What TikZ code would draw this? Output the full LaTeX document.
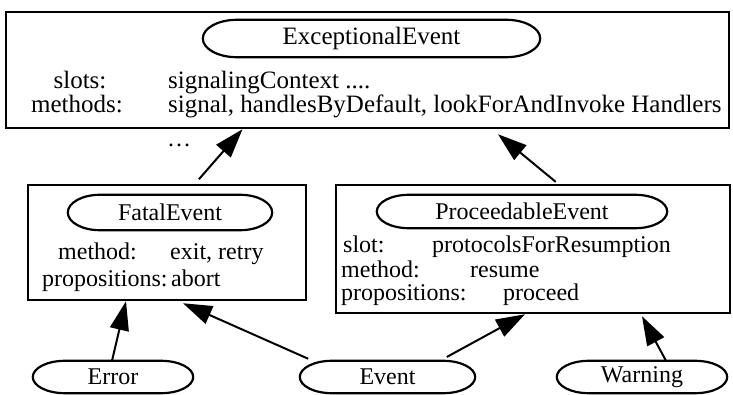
\documentclass[tikz,border=0pt]{standalone}
\usepackage{fontspec}
\setmainfont{Liberation Serif}
\usetikzlibrary{arrows.meta,calc}
\newcommand\ovaloutline[2]{%
  \draw[ovalline] let \p1=(#1.north west), \p2=(#1.south east), \n1={(\y1-\y2)/2} in
    (\x1+#2,\y1) -- (\x2-#2,\y1) arc[start angle=90,end angle=-90,x radius=#2,y radius=\n1]
    -- (\x1+#2,\y2) arc[start angle=270,end angle=90,x radius=#2,y radius=\n1] -- cycle;}
\begin{document}
\begin{tikzpicture}[x=1pt,y=1pt,
  txt/.style={font=\fontsize{24}{24}\selectfont, inner sep=0pt},
  bigtxt/.style={font=\fontsize{25}{25}\selectfont, inner sep=0pt},
  line/.style={text height=16pt, text depth=4pt},
  box/.style={draw, line width=2.5pt, inner sep=0pt},
  ov/.style={txt, draw=none},
  ovalline/.style={line width=2.2pt},
  arr/.style={line width=2pt, -{Triangle[length=29pt,width=19pt]}}]
\useasboundingbox (0,0) rectangle (733,-395);
% top box
\node[box, minimum width=723pt, minimum height=116pt] (top) at (367.5,-70) {};
\node[ov, bigtxt, minimum width=337pt, minimum height=37pt] (exc) at (371.5,-38.5) {ExceptionalEvent};
\node[bigtxt, line, anchor=base] (slotsl) at (80,-89) {slots:};
\node[bigtxt, line, anchor=base] (methl) at (77,-113) {methods:};
\node[bigtxt, line, anchor=base west] (slotsv) at (168,-89) {signalingContext ....};
\node[bigtxt, line, anchor=base west] (methv) at (168,-113) {signal, handlesByDefault, lookForAndInvoke Handlers};
\node[txt, anchor=base] (dots) at (179,-147) {\ldots};
% fatal box
\node[box, minimum width=278pt, minimum height=115pt] (fatal) at (167,-242.5) {};
\node[ov, minimum width=204pt, minimum height=35pt] (fatalov) at (170,-212.5) {FatalEvent};
\node[txt, line, anchor=base west] (fml) at (58,-259) {method:};
\node[txt, line, anchor=base west] (fmv) at (170,-259) {exit, retry};
\node[txt, line, anchor=base west] (fpl) at (42,-286) {propositions:};
\node[txt, line, anchor=base west] (fpv) at (171,-286) {abort};
% proceedable box
\node[box, minimum width=394pt, minimum height=128pt] (proc) at (533,-249) {};
\node[ov, minimum width=290pt, minimum height=33pt] (procov) at (522,-211.5) {ProceedableEvent\hspace{42pt}};
\node[txt, line, anchor=base west] (psl) at (343,-253) {slot:};
\node[txt, line, anchor=base west] (psv) at (432,-253) {protocolsForResumption};
\node[txt, line, anchor=base west] (pml) at (341,-277) {method:};
\node[txt, line, anchor=base west] (pmv) at (470,-277) {resume};
\node[txt, line, anchor=base west] (ppl) at (341,-300) {propositions:};
\node[txt, line, anchor=base west] (ppv) at (503,-300) {proceed};
% bottom ovals
\node[ov, minimum width=160pt, minimum height=32pt] (err) at (113,-377) {Error\hspace{28pt}};
\node[ov, minimum width=175pt, minimum height=32pt] (event) at (387.5,-377) {Event};
\node[ov, minimum width=170pt, minimum height=32pt] (warn) at (642,-377) {Warning};
\ovaloutline{exc}{34pt}
\ovaloutline{fatalov}{32pt}
\ovaloutline{procov}{32pt}
\ovaloutline{err}{32pt}
\ovaloutline{event}{32pt}
\ovaloutline{warn}{32pt}
% connectors
\draw[arr, shorten <=6pt] ([xshift=28pt]fatal.north) -- ([xshift=-125pt]top.south);
\draw[arr, shorten <=3pt] ([xshift=25pt]proc.north) -- ([xshift=130.5pt,yshift=-5pt]top.south);
\draw[arr] ([xshift=-1pt]err.north) -- ([xshift=-41pt]fatal.south);
\draw[arr, shorten <=5pt] ([xshift=13pt]event.north west) -- ([xshift=16pt,yshift=-2pt]fatal.south);
\draw[arr, shorten <=8pt] ([xshift=140pt]event.north west) -- ([xshift=-8pt]proc.south);
\draw[arr] ([xshift=24pt]warn.north) -- ([xshift=109pt,yshift=-2pt]proc.south);
\end{tikzpicture}
\end{document}
